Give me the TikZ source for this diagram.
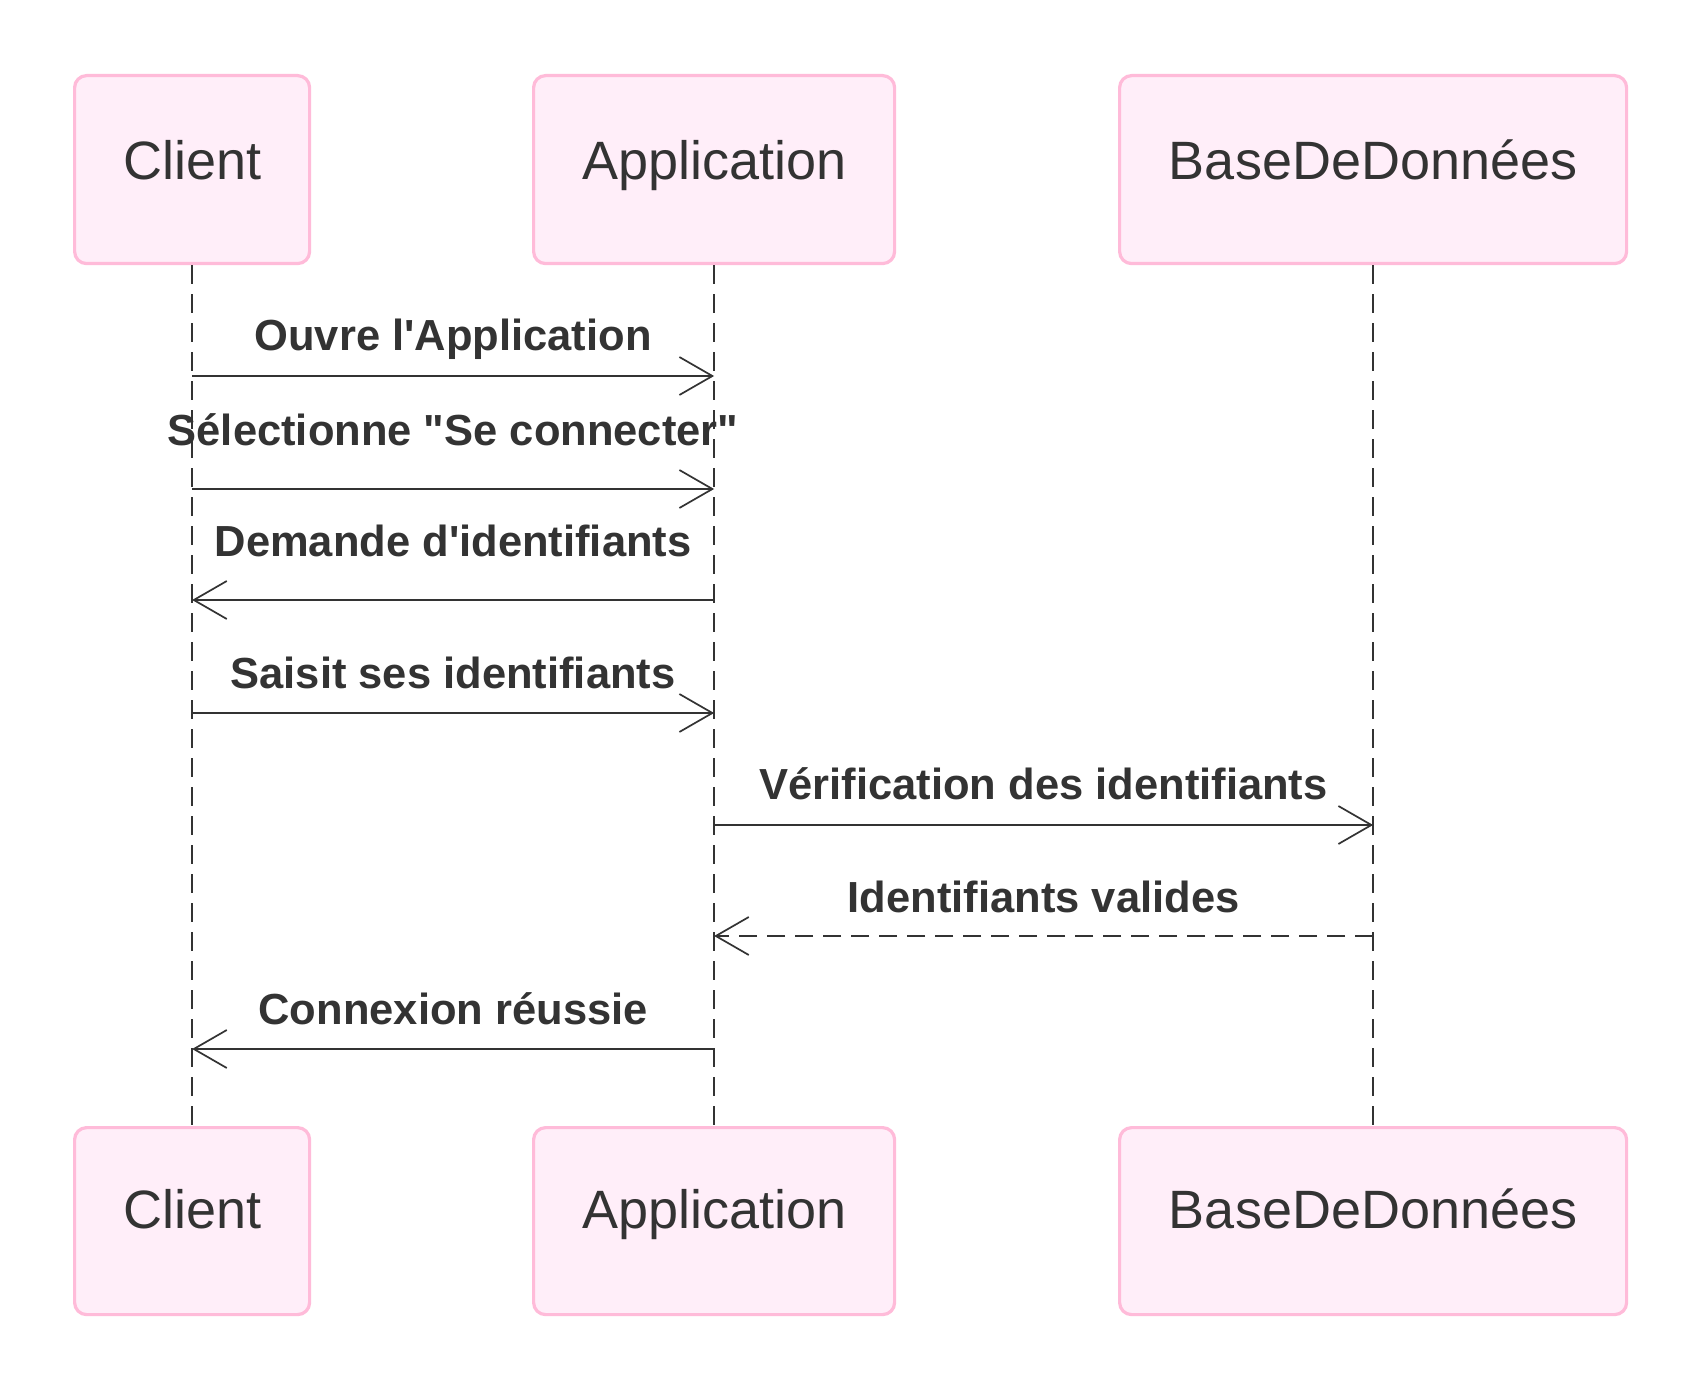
\documentclass[tikz,border=0pt]{standalone}
\usepackage{fontspec}
\setmainfont{Liberation Sans}[Ligatures=TeXOff]
\usetikzlibrary{arrows.meta,calc}
\definecolor{boxfill}{HTML}{FFEEF9}
\definecolor{boxline}{HTML}{FFBBD9}
\definecolor{ink}{HTML}{333333}
\tikzset{
  actorbox/.style={draw=boxline, fill=boxfill, line width=3.2pt, rounded corners=12pt, inner sep=0pt, anchor=north west},
  actortext/.style={anchor=base, text=ink, inner sep=0pt, font=\fontsize{54}{60}\selectfont},
  lifeline/.style={draw=ink, line width=1.7pt, dash pattern=on 19pt off 10pt},
  msg/.style={draw=ink, line width=1.7pt, -{Straight Barb[length=33pt, width=38pt, line width=1.7pt]}},
  reply/.style={msg, dash pattern=on 18pt off 10pt},
  msgtext/.style={anchor=base, text=ink, inner sep=0pt, font=\bfseries\fontsize{43.5}{50}\selectfont}
}
\begin{document}
\begin{tikzpicture}[x=1pt, y=-1pt]
\useasboundingbox[fill=white] (0,0) rectangle (1703,1388);
% top actors
\node[actorbox, minimum width=235pt, minimum height=188pt] (c1) at (73,74) {};
\node[actorbox, minimum width=361pt, minimum height=188pt] (a1) at (532,74) {};
\node[actorbox, minimum width=507pt, minimum height=188pt] (b1) at (1118,74) {};
% bottom actors
\node[actorbox, minimum width=235pt, minimum height=187pt] (c2) at (73,1126) {};
\node[actorbox, minimum width=361pt, minimum height=187pt] (a2) at (532,1126) {};
\node[actorbox, minimum width=507pt, minimum height=187pt] (b2) at (1118,1126) {};
% actor texts
\node[actortext] (tc1) at (c1.center |- 0,180) {Client};
\node[actortext] (ta1) at (a1.center |- 0,180) {Application};
\node[actortext] (tb1) at (b1.center |- 0,180) {BaseDeDonnées};
\node[actortext] (tc2) at (c2.center |- 0,1228) {Client};
\node[actortext] (ta2) at (a2.center |- 0,1228) {Application};
\node[actortext] (tb2) at (b2.center |- 0,1228) {BaseDeDonnées};
% lifelines
\draw[lifeline] (c1.south) -- (c2.north);
\draw[lifeline] (a1.south) -- (a2.north);
\draw[lifeline] (b1.south) -- (b2.north);
% message anchor points on lifelines
\foreach \i/\y in {1/376,2/489,3/600,4/713,5/825,6/936,7/1049}{
  \coordinate (C\i) at (c1.south |- 0,\y);
  \coordinate (A\i) at (a1.south |- 0,\y);
  \coordinate (B\i) at (b1.south |- 0,\y);
}
% messages
\draw[msg] (C1) -- (A1);
\node[msgtext, yshift=25pt] (l1) at ($(C1)!0.5!(A1)$) {Ouvre l'Application};
\draw[msg] (C2) -- (A2);
\node[msgtext, yshift=44pt] (l2) at ($(C2)!0.5!(A2)$) {Sélectionne "Se connecter"};
\draw[msg] (A3) -- (C3);
\node[msgtext, yshift=44pt] (l3) at ($(C3)!0.5!(A3)$) {Demande d'identifiants};
\draw[msg] (C4) -- (A4);
\node[msgtext, yshift=25pt] (l4) at ($(C4)!0.5!(A4)$) {Saisit ses identifiants};
\draw[msg] (A5) -- (B5);
\node[msgtext, yshift=26pt] (l5) at ($(A5)!0.5!(B5)$) {Vérification des identifiants};
\draw[reply] (B6) -- (A6);
\node[msgtext, yshift=24pt] (l6) at ($(A6)!0.5!(B6)$) {Identifiants valides};
\draw[msg] (A7) -- (C7);
\node[msgtext, yshift=25pt] (l7) at ($(C7)!0.5!(A7)$) {Connexion réussie};
\end{tikzpicture}
\end{document}
